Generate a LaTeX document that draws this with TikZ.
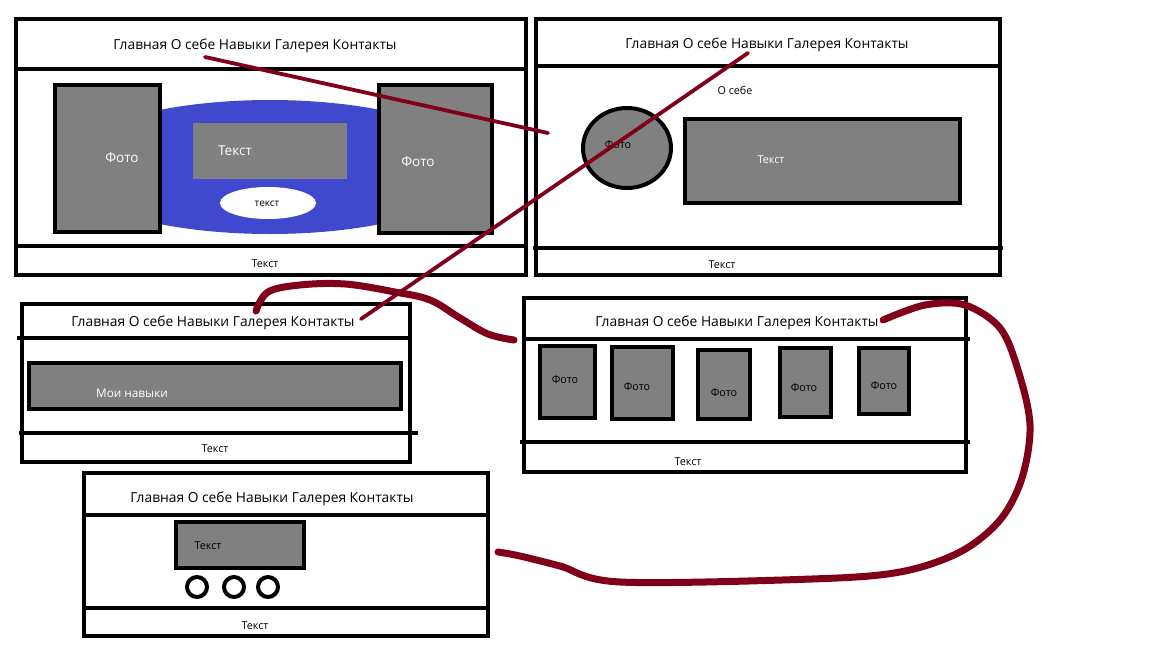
\documentclass[tikz,border=0pt]{standalone}
\usepackage{fontspec}
\setmainfont{Open Sans}
\usetikzlibrary{shapes.geometric}
\definecolor{dred}{RGB}{128,0,26}
\definecolor{eblue}{RGB}{64,72,206}
\definecolor{pgray}{RGB}{128,128,128}
\tikzset{
  pagebox/.style={draw=black, line width=4.5pt, minimum width=#1, inner sep=0pt, outer sep=0pt},
  sep/.style={draw=black, line width=4.5pt},
  graybox/.style={fill=pgray, draw=black, line width=4.5pt, inner sep=0pt},
  plaingray/.style={fill=pgray, inner sep=0pt},
  navtext/.style={font=\fontsize{13.8}{15}\selectfont, inner sep=0pt},
  smalltext/.style={font=\fontsize{10.8}{12}\selectfont, inner sep=0pt},
  whitetext/.style={font=\fontsize{13.6}{15}\selectfont, text=white, inner sep=0pt},
  redthin/.style={draw=dred, line width=3.8pt, line cap=round},
  redthick/.style={draw=dred, line width=7pt, line cap=round, line join=round},
}
\begin{document}
\begin{tikzpicture}[x=1pt, y=-1pt]
\useasboundingbox (0,0) rectangle (1152,648);

% ===== Page 1 =====
\node[pagebox=510pt, minimum height=256pt] (p1) at (271,147) {};
\draw[sep] (16,69) -- (526,69);
\draw[sep] (16,246) -- (526,246);
\node[navtext] (p1nav) at (255,45.5) {Главная О себе Навыки Галерея Контакты};
\node[ellipse, fill=eblue, minimum width=420pt, minimum height=134pt, inner sep=0pt] (p1ell) at (270,167) {};
\node[plaingray, minimum width=154pt, minimum height=56pt] (p1txt) at (270,151) {};
\node[whitetext] at (235,150.5) {Текст};
\node[ellipse, fill=white, minimum width=96pt, minimum height=32pt, inner sep=0pt] (p1oval) at (268,203) {};
\node[smalltext, font=\fontsize{10}{12}\selectfont] at (267,203.5) {текст};
\node[graybox, minimum width=105pt, minimum height=147pt] (p1ph1) at (107.5,158.5) {};
\node[whitetext] at (122,157.5) {Фото};
\node[graybox, minimum width=113pt, minimum height=148pt] (p1ph2) at (435.5,159) {};
\node[whitetext] at (418,161.5) {Фото};
\node[smalltext] at (265,263.5) {Текст};

% ===== Page 2 =====
\node[pagebox=464pt, minimum height=256pt] (p2) at (768,147) {};
\draw[sep] (536,66) -- (1000,66);
\draw[sep] (533,248) -- (1003,248);
\node[navtext] (p2nav) at (767,44.5) {Главная О себе Навыки Галерея Контакты};
\node[smalltext] at (735,90.5) {О себе};
\node[ellipse, fill=pgray, draw=black, line width=4pt, minimum width=88pt, minimum height=80pt, inner sep=0pt] (p2circ) at (627,148) {};
\node[smalltext] at (618,144.5) {Фото};
\node[graybox, minimum width=275pt, minimum height=84pt] (p2txt) at (822.5,161) {};
\node[smalltext, text=white] at (771,159.5) {Текст};
\node[smalltext] at (722,264.5) {Текст};

% ===== Page 3 =====
\node[pagebox=388pt, minimum height=158pt] (p3) at (216,383) {};
\draw[sep] (17,338) -- (410,338);
\draw[sep] (19,433) -- (418,433);
\node[navtext] (p3nav) at (213,322.5) {Главная О себе Навыки Галерея Контакты};
\node[graybox, minimum width=372pt, minimum height=46pt] (p3bar) at (215,386) {};
\node[smalltext, font=\fontsize{11.8}{13}\selectfont, text=white] at (132,393.5) {Мои навыки};
\node[smalltext] at (215,448.5) {Текст};

% ===== Page 4 =====
\node[pagebox=442pt, minimum height=174pt] (p4) at (745,385) {};
\draw[sep] (524,339) -- (970,339);
\draw[sep] (520,442) -- (970,442);
\node[navtext] (p4nav) at (737,322.5) {Главная О себе Навыки Галерея Контакты};
\node[graybox, minimum width=55pt, minimum height=72pt] (g1) at (567.5,382) {};
\node[smalltext] at (565,379.5) {Фото};
\node[graybox, minimum width=61pt, minimum height=72pt] (g2) at (642.5,383) {};
\node[smalltext] at (637,386.5) {Фото};
\node[graybox, minimum width=52pt, minimum height=69pt] (g3) at (724,384.5) {};
\node[smalltext] at (724,392.5) {Фото};
\node[graybox, minimum width=51pt, minimum height=69pt] (g4) at (805.5,382.5) {};
\node[smalltext] at (804,387.5) {Фото};
\node[graybox, minimum width=50pt, minimum height=66pt] (g5) at (884,381) {};
\node[smalltext] at (884,385.5) {Фото};
\node[smalltext] at (688,461.5) {Текст};

% ===== Page 5 =====
\node[pagebox=404pt, minimum height=163pt] (p5) at (286,554.5) {};
\draw[sep] (84,515) -- (488,515);
\draw[sep] (84,608) -- (488,608);
\node[navtext] (p5nav) at (272,498.5) {Главная О себе Навыки Галерея Контакты};
\node[graybox, minimum width=128pt, minimum height=46pt] (p5txt) at (240,545) {};
\node[smalltext] at (208,545.5) {Текст};
\node[circle, draw=black, line width=4pt, minimum size=20pt, inner sep=0pt] (c1) at (197,587) {};
\node[circle, draw=black, line width=4pt, minimum size=20pt, inner sep=0pt] (c2) at (234,587) {};
\node[circle, draw=black, line width=4pt, minimum size=20pt, inner sep=0pt] (c3) at (268,587) {};
\node[smalltext] at (255,625.5) {Текст};

% ===== Red connectors =====
\coordinate (a1) at (205,57);
\coordinate (a2) at (548,133);
\draw[redthin] (a1) -- (a2);
\coordinate (b1) at (748,53);
\coordinate (b2) at (361,319);
\draw[redthin] (b1) -- (b2);
\coordinate (r1) at (256,311);
\coordinate (r2) at (514,340);
\draw[redthick] plot[smooth, tension=0.6] coordinates {(r1) (268,292) (300,285) (345,284) (395,292) (430,300) (460,318) (488,334) (r2)};
\coordinate (s1) at (883,320);
\coordinate (s2) at (498,552);
\draw[redthick] plot[smooth, tension=0.55] coordinates {(s1) (925,305) (965,305) (1000,328) (1018,370) (1030,425) (1022,478) (1000,520) (960,552) (900,572) (812,579) (620,582) (560,566) (520,556) (s2)};
\end{tikzpicture}
\end{document}
